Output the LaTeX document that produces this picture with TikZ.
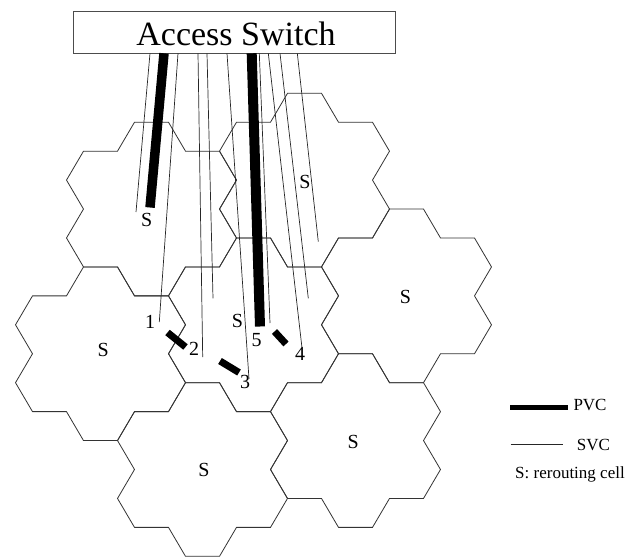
\documentclass[tikz,border=0pt]{standalone}
\usepackage{fontspec}
\setmainfont{Liberation Serif}
\tikzset{
  hexline/.style={draw=black!80,line width=0.8pt,line join=miter},
  svc/.style={draw=black!85,line width=0.7pt},
  pvcmain/.style={draw=black,line width=9.5pt},
  pvcpart/.style={draw=black,line width=7pt},
  switchbox/.style={draw=black!70,line width=0.8pt,fill=white,minimum width=321.7pt,minimum height=41.6pt,inner sep=0pt},
  celllabel/.style={font=\fontsize{20}{20}\selectfont,inner sep=0pt},
  numlabel/.style={font=\fontsize{20}{20}\selectfont,inner sep=0pt},
  legtext/.style={font=\fontsize{17}{17}\selectfont,inner sep=0pt,anchor=base west},
  flower/.pic={\path[hexline] (-17,-86.82) -- (17,-86.82) -- (34,-57.88) -- (68,-57.88) -- (85,-28.94) -- (68,0) -- (85,28.94) -- (68,57.88) -- (34,57.88) -- (17,86.82) -- (-17,86.82) -- (-34,57.88) -- (-68,57.88) -- (-85,28.94) -- (-68,0) -- (-85,-28.94) -- (-68,-57.88) -- (-34,-57.88) -- cycle;}
}
\begin{document}
\begin{tikzpicture}[x=1pt,y=-1pt]
\useasboundingbox (0,0) rectangle (629,557);
\clip (0,0) rectangle (629,557);

% super-cells (exact cluster lattice around the centre cell C)
\pic (cA) at (151.5,209.04) {flower};
\pic (cB) at (304.5,180.1) {flower};
\pic (cC) at (253.5,324.8) {flower};
\pic (cD) at (100.5,353.74) {flower};
\pic (cE) at (406.5,295.86) {flower};
\pic (cF) at (355.5,440.56) {flower};
\pic (cG) at (202.5,469.5) {flower};

% cell labels
\node[celllabel] (sA) at (146.7,220) {S};
\node[celllabel] (sB) at (305,181.7) {S};
\node[celllabel] (sC) at (237.5,320.8) {S};
\node[celllabel] (sD) at (103.3,350) {S};
\node[celllabel] (sE) at (405.5,296.7) {S};
\node[celllabel] (sF) at (353.3,441.7) {S};
\node[celllabel] (sG) at (204,470) {S};

% number labels
\node[numlabel] (n1) at (150,321.7) {1};
\node[numlabel] (n2) at (194,349.3) {2};
\node[numlabel] (n3) at (245,381.7) {3};
\node[numlabel] (n4) at (300,353.7) {4};
\node[numlabel] (n5) at (256.7,340) {5};

% access switch
\node[switchbox] (sw) at (234.2,32.5) {};
\node[font=\fontsize{34}{34}\selectfont,inner sep=0pt,anchor=base] (swlabel) at (236,45) {Access Switch};

% start points on the switch
\coordinate (s1) at (150,53.3);
\coordinate (s2) at (178,53.3);
\coordinate (s3) at (198,53.3);
\coordinate (s4) at (207,53.3);
\coordinate (s5) at (227,53.3);
\coordinate (s6) at (259.3,53.3);
\coordinate (s7) at (268.3,53.3);
\coordinate (s8) at (280,53.3);
\coordinate (s9) at (297.3,53.3);
\coordinate (t1) at (164,53.3);
\coordinate (t2) at (251.7,53.3);

% end points
\coordinate (e1) at (136,212);
\coordinate (e2) at (159.3,322);
\coordinate (e3) at (202.7,357);
\coordinate (e4) at (213,298.3);
\coordinate (e5) at (249,379);
\coordinate (e6) at (270,323);
\coordinate (e7) at (302,348);
\coordinate (e8) at (308.3,298.3);
\coordinate (e9) at (318.3,241.7);
\coordinate (u1) at (150,207.5);
\coordinate (u2) at (260,326.5);

% SVC lines
\draw[svc] (s1) -- (e1);
\draw[svc] (s2) -- (e2);
\draw[svc] (s3) -- (e3);
\draw[svc] (s4) -- (e4);
\draw[svc] (s5) -- (e5);
\draw[svc] (s6) -- (e6);
\draw[svc] (s7) -- (e7);
\draw[svc] (s8) -- (e8);
\draw[svc] (s9) -- (e9);

% PVC lines
\draw[pvcmain] (t1) -- (u1);
\draw[pvcmain,line width=10pt] (t2) -- (u2);

% rerouted PVC parts
\coordinate (p2a) at (167.5,332.5);
\coordinate (p2b) at (185.5,347);
\coordinate (p3a) at (220,361);
\coordinate (p3b) at (239,372.5);
\coordinate (p4a) at (274.5,331.5);
\coordinate (p4b) at (286,344);
\draw[pvcpart] (p2a) -- (p2b);
\draw[pvcpart] (p3a) -- (p3b);
\draw[pvcpart] (p4a) -- (p4b);

% legend
\coordinate (lpA) at (510,407.3);
\coordinate (lpB) at (568,407.3);
\coordinate (lsA) at (510.7,444);
\coordinate (lsB) at (563.3,444);
\draw[draw=black,line width=5pt] (lpA) -- (lpB);
\draw[svc] (lsA) -- (lsB);
\node[legtext] (lpv) at (573.3,410) {PVC};
\node[legtext] (lsv) at (576.7,450) {SVC};
\node[legtext] (lrc) at (515,478.3) {S: rerouting cell};
\end{tikzpicture}
\end{document}
